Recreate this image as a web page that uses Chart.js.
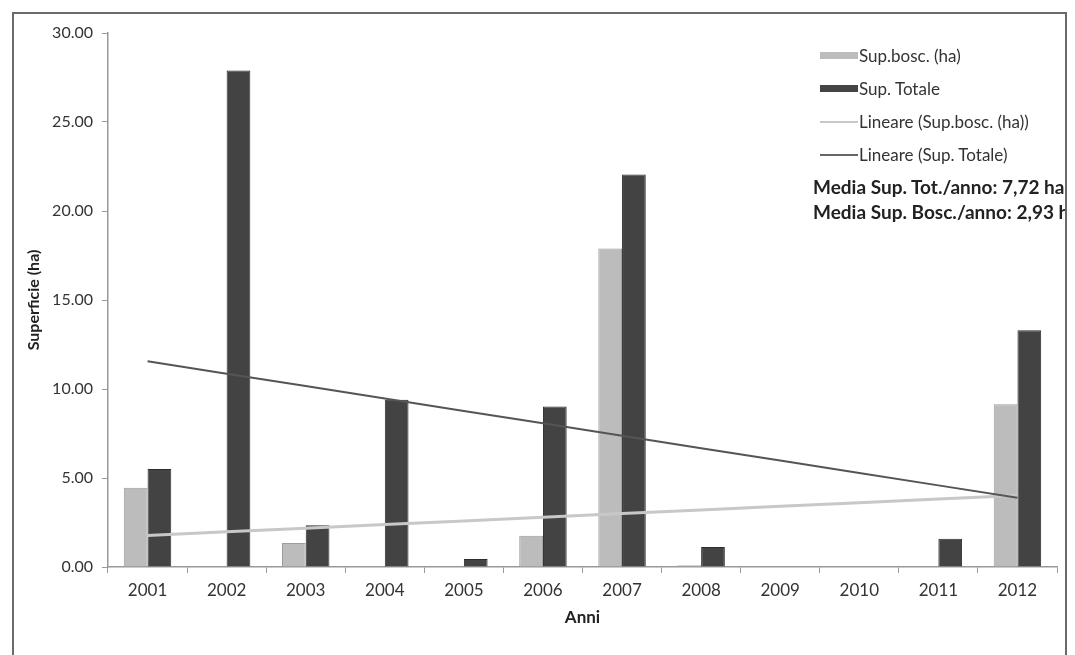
<!DOCTYPE html>
<html>
<head>
<meta charset="utf-8">
<script src="https://cdn.jsdelivr.net/npm/chart.js@4"></script>
<style>
  body { margin: 0; background: #fff; overflow: hidden; }
  #wrap { position: relative; width: 1075px; height: 655px; }
  #frame { position: absolute; left: 12px; top: 12px; width: 1051px; height: 700px; border: 2px solid #6a6a6a; border-bottom: none; }
  #legend { position: absolute; left: 813px; top: 39px; width: 252px; overflow: hidden; font-family: Lato, sans-serif; color: #333; white-space: nowrap; }
  .item { height: 33px; display: flex; align-items: center; font-size: 17px; }
  .sw { width: 38px; height: 7px; margin-left: 7px; margin-right: 1px; }
  .ln { width: 38px; height: 2px; margin-left: 7px; margin-right: 1px; }
  .media { font-weight: bold; font-size: 19px; color: #222; line-height: 25px; }
</style>
</head>
<body>
<div id="wrap">
  <canvas id="chart" width="1075" height="655"></canvas>
  <div id="frame"></div>
  <div id="legend">
    <div class="item"><span class="sw" style="background:#bcbcbc"></span>Sup.bosc. (ha)</div>
    <div class="item"><span class="sw" style="background:#444"></span>Sup. Totale</div>
    <div class="item"><span class="ln" style="background:#c8c8c8"></span>Lineare (Sup.bosc. (ha))</div>
    <div class="item"><span class="ln" style="background:#666"></span>Lineare (Sup. Totale)</div>
    <div class="media" style="margin-top:3px">Media Sup. Tot./anno: 7,72 ha</div>
    <div class="media">Media Sup. Bosc./anno: 2,93 ha</div>
  </div>
</div>
<script>
const anni = ['2001', '2002', '2003', '2004', '2005', '2006', '2007', '2008', '2009', '2010', '2011', '2012'];
const supBosc = [4.45, 0, 1.35, 0.05, 0, 1.76, 17.9, 0.1, 0, 0, 0, 9.15];
const supTotale = [5.5, 27.9, 2.35, 9.4, 0.45, 9.02, 22.05, 1.12, 0, 0, 1.59, 13.3];
const yTicks = [0, 5, 10, 15, 20, 25, 30];

// linear trendline (least squares), like Excel's "Lineare"
function trend(values) {
    const n = values.length;
    const xs = values.map((v, i) => i + 1);
    const mx = xs.reduce((a, b) => a + b, 0) / n;
    const my = values.reduce((a, b) => a + b, 0) / n;
    let num = 0, den = 0;
    xs.forEach((x, i) => { num += (x - mx) * (values[i] - my); den += (x - mx) * (x - mx); });
    const slope = num / den;
    return xs.map(x => my + slope * (x - mx));
}

const fam = 'Lato, sans-serif';

new Chart(document.getElementById('chart').getContext('2d'), {
    type: 'bar',
    data: {
        labels: anni,
        datasets: [
            {
                type: 'line', label: 'Lineare (Sup. Totale)', data: trend(supTotale),
                borderColor: '#555', borderWidth: 2, pointRadius: 0, order: 0
            },
            {
                type: 'line', label: 'Lineare (Sup.bosc. (ha))', data: trend(supBosc),
                borderColor: '#c8c8c8', borderWidth: 3, pointRadius: 0, order: 1
            },
            {
                label: 'Sup.bosc. (ha)', data: supBosc,
                backgroundColor: '#bcbcbc', borderColor: '#9c9c9c', borderWidth: 1,
                categoryPercentage: 0.6, barPercentage: 1.0, order: 2
            },
            {
                label: 'Sup. Totale', data: supTotale,
                backgroundColor: '#434343', borderColor: '#2c2c2c', borderWidth: 1,
                categoryPercentage: 0.6, barPercentage: 1.0, order: 3
            }
        ]
    },
    options: {
        responsive: false,
        animation: false,
        layout: { padding: { top: 33, right: 18, left: 0, bottom: 0 } },
        plugins: { legend: { display: false }, tooltip: { enabled: false } },
        scales: {
            x: {
                afterFit: s => { s.height = 88; },
                grid: { drawOnChartArea: false, drawTicks: true, tickLength: 6, color: '#999' },
                border: { color: '#999', width: 1.5 },
                ticks: { color: '#333', font: { family: fam, size: 17 }, padding: 7 },
                title: { display: true, text: 'Anni', color: '#222', font: { family: fam, size: 17, weight: 'bold' }, padding: { bottom: 27 } }
            },
            y: {
                min: 0, max: 30,
                afterFit: s => { s.width = 108; },
                afterBuildTicks: s => { s.ticks = yTicks.map(v => ({ value: v })); },
                grid: { drawOnChartArea: false, drawTicks: true, tickLength: 6, color: '#999' },
                border: { color: '#999', width: 1.5 },
                ticks: { color: '#333', font: { family: fam, size: 16 }, padding: 9, callback: v => v.toFixed(2) },
                title: { display: true, text: 'Superficie (ha)', color: '#222', font: { family: fam, size: 16, weight: 'bold' }, padding: { top: 24 } }
            }
        }
    }
});
</script>
</body>
</html>
